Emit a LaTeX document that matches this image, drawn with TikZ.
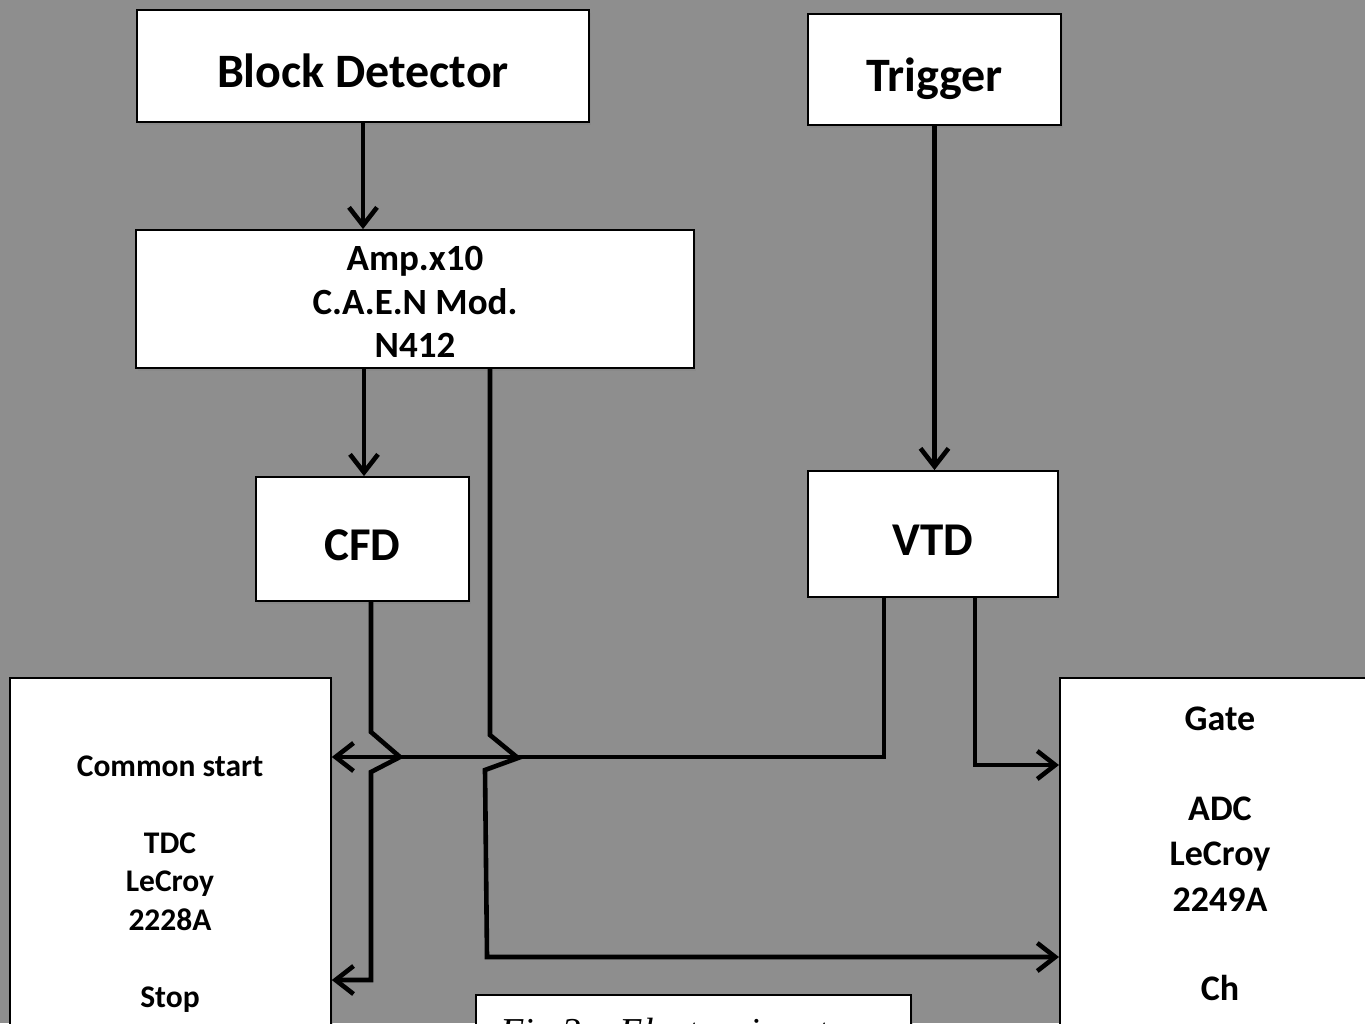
\documentclass[tikz,border=0pt]{standalone}
\usepackage{fontspec}
\setmainfont{Carlito}
\newfontfamily\capfont{Liberation Serif}
\usepackage{tikz}
\usetikzlibrary{arrows.meta, shadows}
\definecolor{bggray}{RGB}{142,142,142}

\tikzset{
    unit/.style={draw=black, line width=1.8pt, fill=white, inner sep=0pt,
        drop shadow={opacity=0.35, shadow xshift=2pt, shadow yshift=-3pt}},
    bigtext/.style={font=\fontsize{#1}{56}\selectfont\bfseries, text height=0.9*#1 pt, text depth=0pt},
    wire/.style={line width=4.6pt, black},
    tip/.style={-{Straight Barb[length=18pt, width=28pt]}},
}

\begin{document}
\begin{tikzpicture}[x=1pt, y=-1pt]
    \useasboundingbox (0,0) rectangle (1365,1023);
    \fill[bggray] (0,0) rectangle (1365,1023);

    % upper boxes
    \node[unit, bigtext=48, minimum width=452pt, minimum height=112pt] (bd)  at (363,66)  {Block Detector};
    \node[unit, bigtext=48, minimum width=253pt, minimum height=111pt] (trg) at (934.5,69.5) {Trigger};
    \node[unit, minimum width=558pt, minimum height=138pt] (amp) at (415,299) {};
    \node[align=center, font=\fontsize{37}{43.5}\selectfont\bfseries] (amptxt) at (415,302) {Amp.x10\\C.A.E.N Mod.\\N412};
    \node[unit, bigtext=47, minimum width=213pt, minimum height=124pt] (cfd) at (362.5,539) {CFD};
    \node[unit, bigtext=47, minimum width=250pt, minimum height=126pt] (vtd) at (933,534) {VTD};

    % lower modules (cut by the page edge)
    \node[unit, anchor=north west, minimum width=321pt, minimum height=420pt] (tdc) at (9,677) {};
    \node[align=center, font=\fontsize{31.5}{38.5}\selectfont\bfseries] (tdctxt) at (170,884)
        {Common start\\[38.5pt]TDC\\LeCroy\\2228A\\[38.5pt]Stop};
    \node[unit, anchor=north west, minimum width=380pt, minimum height=420pt] (adc) at (1059,677) {};
    \node[align=center, font=\fontsize{36}{45.5}\selectfont\bfseries] (adctxt) at (1220,854)
        {Gate\\[44pt]ADC\\LeCroy\\2249A\\[44pt]Ch};

    % caption
    \node[unit, anchor=north west, minimum width=435pt, minimum height=120pt] (cap) at (475,994) {};
    \node[anchor=base west, font=\capfont\itshape\fontsize{38}{44}\selectfont] (captxt) at (497,1044) {Fig.3 – Electronic set};

    % turning points
    \coordinate (cfdhop) at (371,732);
    \coordinate (amphop) at (490,735);
    \coordinate (stp)    at (371,980);
    \coordinate (chn)    at (487,957);
    \coordinate (cst)    at (884,757);
    \coordinate (gte)    at (975,765);

    % signal lines
    \draw[wire, tip] (bd.south) -- (bd.south |- amp.north);
    \draw[wire, tip] (364,0 |- amp.south) -- (364,0 |- cfd.north);
    \draw[wire, tip] (trg.south) -- (trg.south |- vtd.north);

    \draw[wire, tip] (cst |- vtd.south) -- (cst) -- (cst -| tdc.east);
    \draw[wire, tip] (gte |- vtd.south) -- (gte) -- (gte -| adc.west);

    \draw[wire, tip] (cfdhop |- cfd.south) -- (cfdhop) -- ++(29,25) -- ++(-29,15) -- (stp) -- (stp -| tdc.east);
    \draw[wire, tip] (amphop |- amp.south) -- (amphop) -- ++(28,23) -- ++(-33,12) -- (chn) -- (chn -| adc.west);
\end{tikzpicture}
\end{document}
